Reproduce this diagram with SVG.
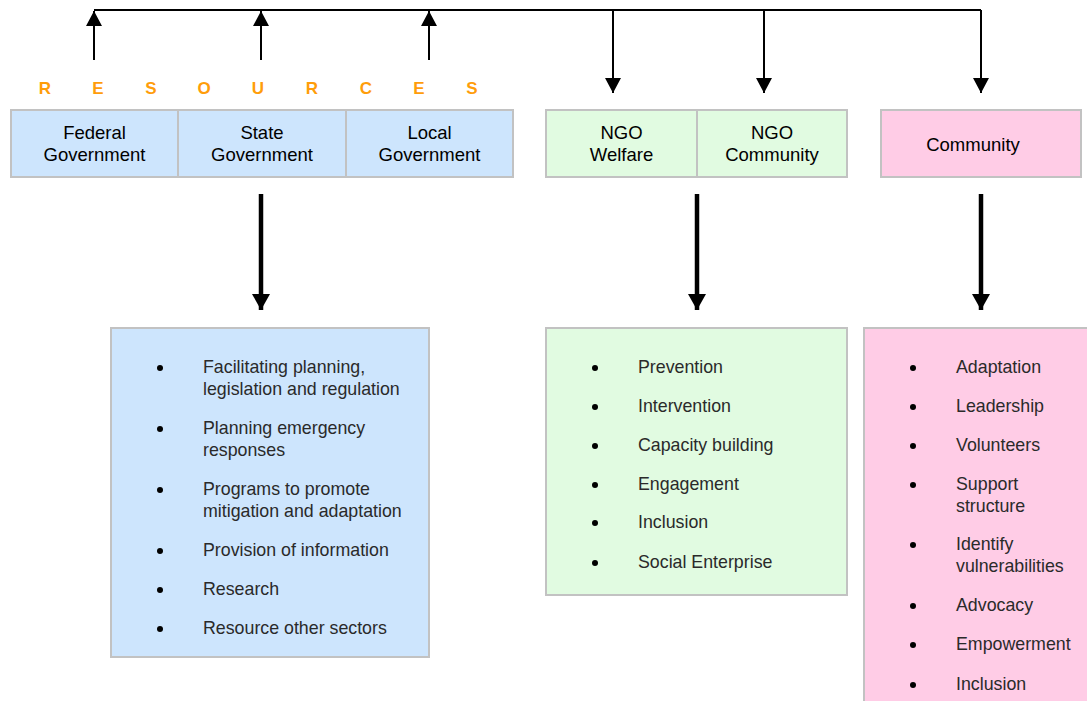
<svg xmlns="http://www.w3.org/2000/svg" width="1087" height="701" viewBox="0 0 1087 701">
<defs>
<marker id="ah" markerWidth="16" markerHeight="16" refX="15" refY="8" orient="auto" markerUnits="userSpaceOnUse"><path d="M0,0 L15,8 L0,16 z" fill="#000"/></marker>
<marker id="ahb" markerWidth="20" markerHeight="20" refX="16" refY="9" orient="auto" markerUnits="userSpaceOnUse"><path d="M0,0 L16,9 L0,18 z" fill="#000"/></marker>
</defs>
<style>
.t{font-family:"Liberation Sans",Arial,sans-serif;font-size:18.5px;fill:#000;text-anchor:middle}
.b{font-family:"Liberation Sans",Arial,sans-serif;font-size:17.8px;fill:#2a2a2a}
.res{font-family:"Liberation Sans",Arial,sans-serif;font-size:17px;font-weight:bold;fill:#ff9d0a;text-anchor:middle}
.box{stroke:#c2c2c2;stroke-width:2}
.blue{fill:#cde5fd}.green{fill:#e1fbe1}.pink{fill:#ffcce6}
.ln{stroke:#000;stroke-width:2;fill:none}
.thk{stroke:#000;stroke-width:4.5;fill:none}
</style>
<rect width="1087" height="701" fill="#fff"/>
<g id="connectors">
<path class="ln" d="M94,10 H981"/>
<path class="ln" d="M94,60 V11" marker-end="url(#ah)"/>
<path class="ln" d="M261,60 V11" marker-end="url(#ah)"/>
<path class="ln" d="M429,60 V11" marker-end="url(#ah)"/>
<path class="ln" d="M613,10 V93" marker-end="url(#ah)"/>
<path class="ln" d="M764,10 V93" marker-end="url(#ah)"/>
<path class="ln" d="M981,10 V93" marker-end="url(#ah)"/>
<path class="thk" d="M261,194 V310" marker-end="url(#ahb)"/>
<path class="thk" d="M697,194 V310" marker-end="url(#ahb)"/>
<path class="thk" d="M981,194 V310" marker-end="url(#ahb)"/>
</g>
<g id="resources-label">
<text class="res" x="45" y="94">R</text>
<text class="res" x="98" y="94">E</text>
<text class="res" x="151" y="94">S</text>
<text class="res" x="204" y="94">O</text>
<text class="res" x="258" y="94">U</text>
<text class="res" x="312" y="94">R</text>
<text class="res" x="366" y="94">C</text>
<text class="res" x="419" y="94">E</text>
<text class="res" x="472" y="94">S</text>
</g>
<g id="federal"><rect class="box blue" x="11" y="110" width="167" height="67"/><text class="t" x="94.5" y="139">Federal</text><text class="t" x="94.5" y="161">Government</text></g>
<g id="state"><rect class="box blue" x="178" y="110" width="168" height="67"/><text class="t" x="262" y="139">State</text><text class="t" x="262" y="161">Government</text></g>
<g id="local"><rect class="box blue" x="346" y="110" width="167" height="67"/><text class="t" x="429.5" y="139">Local</text><text class="t" x="429.5" y="161">Government</text></g>
<g id="ngo-welfare"><rect class="box green" x="546" y="110" width="151" height="67"/><text class="t" x="621.5" y="139">NGO</text><text class="t" x="621.5" y="161">Welfare</text></g>
<g id="ngo-community"><rect class="box green" x="697" y="110" width="150" height="67"/><text class="t" x="772" y="139">NGO</text><text class="t" x="772" y="161">Community</text></g>
<g id="community"><rect class="box pink" x="881" y="110" width="200" height="67"/><text class="t" x="973" y="151">Community</text></g>
<g id="gov-roles">
<rect class="box blue" x="111" y="328" width="318" height="329"/>
<g fill="#000"><circle cx="160" cy="368" r="3"/><circle cx="160" cy="429" r="3"/><circle cx="160" cy="490" r="3"/><circle cx="160" cy="551" r="3"/><circle cx="160" cy="590" r="3"/><circle cx="160" cy="629" r="3"/></g>
<text class="b" x="203" y="373">Facilitating planning,</text>
<text class="b" x="203" y="395">legislation and regulation</text>
<text class="b" x="203" y="434">Planning emergency</text>
<text class="b" x="203" y="456">responses</text>
<text class="b" x="203" y="495">Programs to promote</text>
<text class="b" x="203" y="517">mitigation and adaptation</text>
<text class="b" x="203" y="556">Provision of information</text>
<text class="b" x="203" y="595">Research</text>
<text class="b" x="203" y="634">Resource other sectors</text>
</g>
<g id="ngo-roles">
<rect class="box green" x="546" y="328" width="301" height="267"/>
<g fill="#000"><circle cx="595" cy="368" r="3"/><circle cx="595" cy="407" r="3"/><circle cx="595" cy="446" r="3"/><circle cx="595" cy="485" r="3"/><circle cx="595" cy="523" r="3"/><circle cx="595" cy="563" r="3"/></g>
<text class="b" x="638" y="373">Prevention</text>
<text class="b" x="638" y="412">Intervention</text>
<text class="b" x="638" y="451">Capacity building</text>
<text class="b" x="638" y="490">Engagement</text>
<text class="b" x="638" y="528">Inclusion</text>
<text class="b" x="638" y="568">Social Enterprise</text>
</g>
<g id="community-roles">
<rect class="box pink" x="864" y="328" width="230" height="390"/>
<g fill="#000"><circle cx="913" cy="368" r="3"/><circle cx="913" cy="407" r="3"/><circle cx="913" cy="446" r="3"/><circle cx="913" cy="485" r="3"/><circle cx="913" cy="545" r="3"/><circle cx="913" cy="606" r="3"/><circle cx="913" cy="645" r="3"/><circle cx="913" cy="685" r="3"/></g>
<text class="b" x="956" y="373">Adaptation</text>
<text class="b" x="956" y="412">Leadership</text>
<text class="b" x="956" y="451">Volunteers</text>
<text class="b" x="956" y="490">Support</text>
<text class="b" x="956" y="512">structure</text>
<text class="b" x="956" y="550">Identify</text>
<text class="b" x="956" y="572">vulnerabilities</text>
<text class="b" x="956" y="611">Advocacy</text>
<text class="b" x="956" y="650">Empowerment</text>
<text class="b" x="956" y="690">Inclusion</text>
</g>
</svg>
